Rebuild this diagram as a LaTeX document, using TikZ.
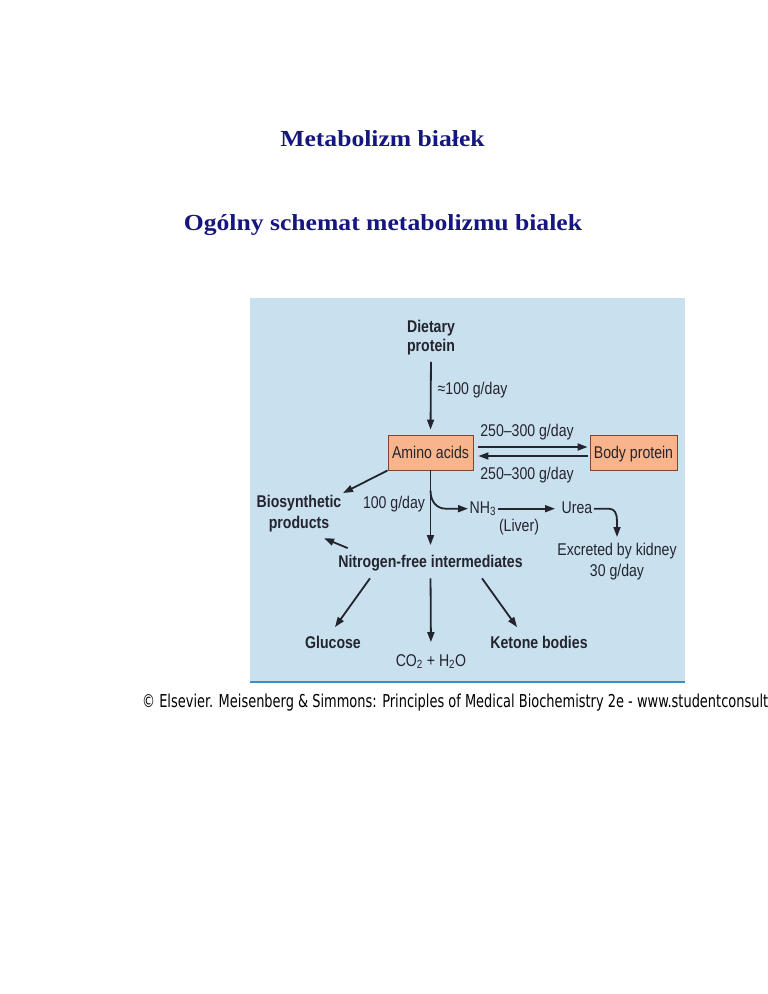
\documentclass[tikz,border=0pt]{standalone}
\usepackage{fontspec}
\usetikzlibrary{arrows.meta,calc}
\newfontfamily\dfont[FakeStretch=0.83]{Liberation Sans}
\newfontfamily\tfont[FakeStretch=1.115]{Liberation Serif}
\newfontfamily\cfont{DejaVu Sans Condensed}
\definecolor{navy}{RGB}{22,22,128}
\definecolor{panel}{RGB}{201,225,238}
\definecolor{pline}{RGB}{52,146,204}
\definecolor{boxfill}{RGB}{249,180,140}
\definecolor{boxline}{RGB}{125,70,45}
\definecolor{ink}{RGB}{36,36,46}
\tikzset{
  lbl/.style={font=\dfont\fontsize{17}{19.5}\selectfont, text=ink, inner sep=1.5pt},
  blbl/.style={lbl, font=\dfont\bfseries\fontsize{17}{19.5}\selectfont},
  fixh/.style={text height=12.2pt, text depth=3.6pt},
  ttl/.style={font=\tfont\bfseries\fontsize{23}{27}\selectfont, text=navy, inner sep=0pt},
  abox/.style={lbl, fill=boxfill, draw=boxline, line width=0.9pt, minimum height=35pt,
    text height=12.2pt, text depth=0pt, inner sep=0pt},
  arr/.style={draw=ink, line width=1.8pt, -{Triangle[length=10pt,width=7pt]}},
}
\begin{document}
\begin{tikzpicture}[x=1pt,y=-1pt]
\useasboundingbox (0,0) rectangle (768,994);
% titles
\node[ttl, anchor=base] (t1) at (382.5,146.5) {Metabolizm białek};
\node[ttl, anchor=base] (t2) at (383,230) {Ogólny schemat metabolizmu bialek};
% panel
\fill[panel] (250,298) rectangle (685,680.5);
\draw[pline, line width=2.2pt] (250,682) -- (685,682);
% nodes
\node[blbl, anchor=north, align=center] (diet) at (431,318) {Dietary\\protein};
\node[lbl, fixh, anchor=base west] (l100) at (436,394) {≈100 g/day};
\node[abox, minimum width=85pt] (aa) at (430.5,452.5) {Amino acids};
\node[abox, minimum width=87pt] (bp) at (633.5,452.5) {Body protein};
\node[lbl, fixh, anchor=base] (r1) at (527,436) {250–300 g/day};
\node[lbl, fixh, anchor=base] (r2) at (527,479) {250–300 g/day};
\node[blbl, anchor=north, align=center, font=\dfont\bfseries\fontsize{17}{21}\selectfont] (bio) at (299,493) {Biosynthetic\\products};
\node[lbl, fixh, anchor=base] (l100b) at (394,508) {100 g/day};
\node[lbl, fixh, anchor=base west] (nh3) at (468,513) {NH\textsubscript{3}};
\node[lbl, fixh, anchor=base west] (urea) at (560,513) {Urea};
\node[lbl, fixh, anchor=base] (liv) at (519,531) {(Liver)};
\node[lbl, anchor=north, align=center, font=\dfont\fontsize{17}{21}\selectfont] (exc) at (617,541) {Excreted by kidney\\30 g/day};
\node[blbl, fixh, anchor=base] (nf) at (430.5,567) {Nitrogen-free intermediates};
\node[blbl, fixh, anchor=base] (glu) at (333,648) {Glucose};
\node[blbl, fixh, anchor=base] (ket) at (539,648) {Ketone bodies};
\node[lbl, fixh, anchor=base] (co2) at (431,666) {CO\textsubscript{2} + H\textsubscript{2}O};
% connectors
\draw[arr, shorten <=5pt, shorten >=5pt] (diet.south) -- (aa.north);
\draw[arr, shorten <=5pt, shorten >=2pt] ([yshift=5.5pt]aa.east) -- ([yshift=5.5pt]bp.west);
\draw[arr, shorten <=2pt, shorten >=5pt] ([yshift=-3.5pt]bp.west) -- ([yshift=-3.5pt]aa.east);
\draw[arr] (aa.south west) -- (bio.north east);
\draw[arr, shorten >=8pt] (aa.south) -- (nf.north);
\draw[arr] ($(aa.south)+(0,20)$) .. controls +(0,12) and +(-8,0) .. ($(aa.south)+(15,38.2)$) -- (nh3.west);
\draw[arr, shorten >=5pt] (nh3.east) -- (urea.west);
\draw[arr, shorten >=4pt] (urea.east) -- ++(15,0) .. controls +(6,0) and +(0,-7) .. ($(exc.north)+(0,-20)$) -- (exc.north);
\draw[arr] ($(nf.north west)+(11,-5)$) -- ($(bio.south east)+(-19,5)$);
\draw[arr] ($(nf.south)+(-60.5,6)$) -- ($(glu.north)+(2,-7)$);
\draw[arr, shorten <=6pt, shorten >=10pt] (nf.south) -- (co2.north);
\draw[arr] ($(nf.south)+(51.5,6)$) -- ($(ket.north)+(-22,-7)$);
% caption
\node[anchor=base west, inner sep=0pt, text=black] (cap) at (142,707.5)
  {\resizebox{626pt}{13.5pt}{\cfont\fontsize{16}{18}\selectfont © Elsevier. Meisenberg \& Simmons: Principles of Medical Biochemistry 2e - www.studentconsult}};
\end{tikzpicture}
\end{document}
